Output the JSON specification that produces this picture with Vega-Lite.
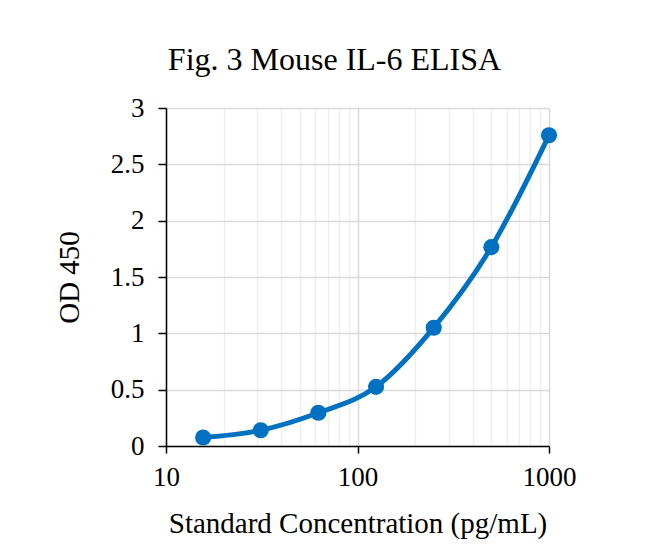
{
  "$schema": "https://vega.github.io/schema/vega-lite/v6.json",
  "autosize": {"type": "none"},
  "padding": {"left": 166, "top": 108, "right": 105, "bottom": 100},
  "width": 383,
  "height": 338,
  "background": "white",
  "title": {"text": "Fig. 3 Mouse IL-6 ELISA", "font": "Liberation Serif", "fontSize": 32, "fontWeight": "normal", "color": "#000000", "anchor": "middle", "offset": 17, "dx": -23},
  "config": {
    "view": {"stroke": null},
    "axis": {"labelFont": "Liberation Serif", "titleFont": "Liberation Serif", "labelColor": "#000", "titleColor": "#000", "titleFontWeight": "normal", "domainColor": "#000", "tickColor": "#000", "domainWidth": 1.5, "tickWidth": 1.5}
  },
  "data": {"values": [
    {"conc": 15.625, "od": 0.075},
    {"conc": 31.25, "od": 0.14},
    {"conc": 62.5, "od": 0.295},
    {"conc": 125, "od": 0.525},
    {"conc": 250, "od": 1.05},
    {"conc": 500, "od": 1.765},
    {"conc": 1000, "od": 2.758}
  ]},
  "encoding": {
    "x": {"field": "conc", "type": "quantitative",
      "scale": {"type": "log", "domain": [10, 1000], "nice": false},
      "axis": {"title": "Standard Concentration (pg/mL)", "values": [10,20,30,40,50,60,70,80,90,100,200,300,400,500,600,700,800,900,1000],
        "format": "d",
        "labelExpr": "(datum.value == 10 || datum.value == 100 || datum.value == 1000) ? datum.label : ''",
        "labelFontSize": 27, "titleFontSize": 29, "labelPadding": 11, "titlePadding": 19, "tickSize": 7,
        "tickOpacity": {"condition": {"test": "datum.value == 10 || datum.value == 100 || datum.value == 1000", "value": 1}, "value": 0},
        "gridColor": {"condition": {"test": "datum.value == 10 || datum.value == 100 || datum.value == 1000", "value": "#d9d9d9"}, "value": "#efefef"},
        "gridWidth": 1.5, "labelFlush": false}},
    "y": {"field": "od", "type": "quantitative",
      "scale": {"domain": [0, 3], "nice": false},
      "axis": {"title": "OD 450", "values": [0, 0.5, 1, 1.5, 2, 2.5, 3], "format": "~g", "labelFontSize": 27, "titleFontSize": 29, "labelPadding": 14, "titlePadding": 26, "tickSize": 8, "gridColor": "#d9d9d9", "gridWidth": 1.5}}
  },
  "layer": [
    {"mark": {"type": "line", "interpolate": "monotone", "color": "#0070C0", "strokeWidth": 5}},
    {"mark": {"type": "point", "filled": true, "opacity": 1, "color": "#0070C0", "size": 260}}
  ]
}
